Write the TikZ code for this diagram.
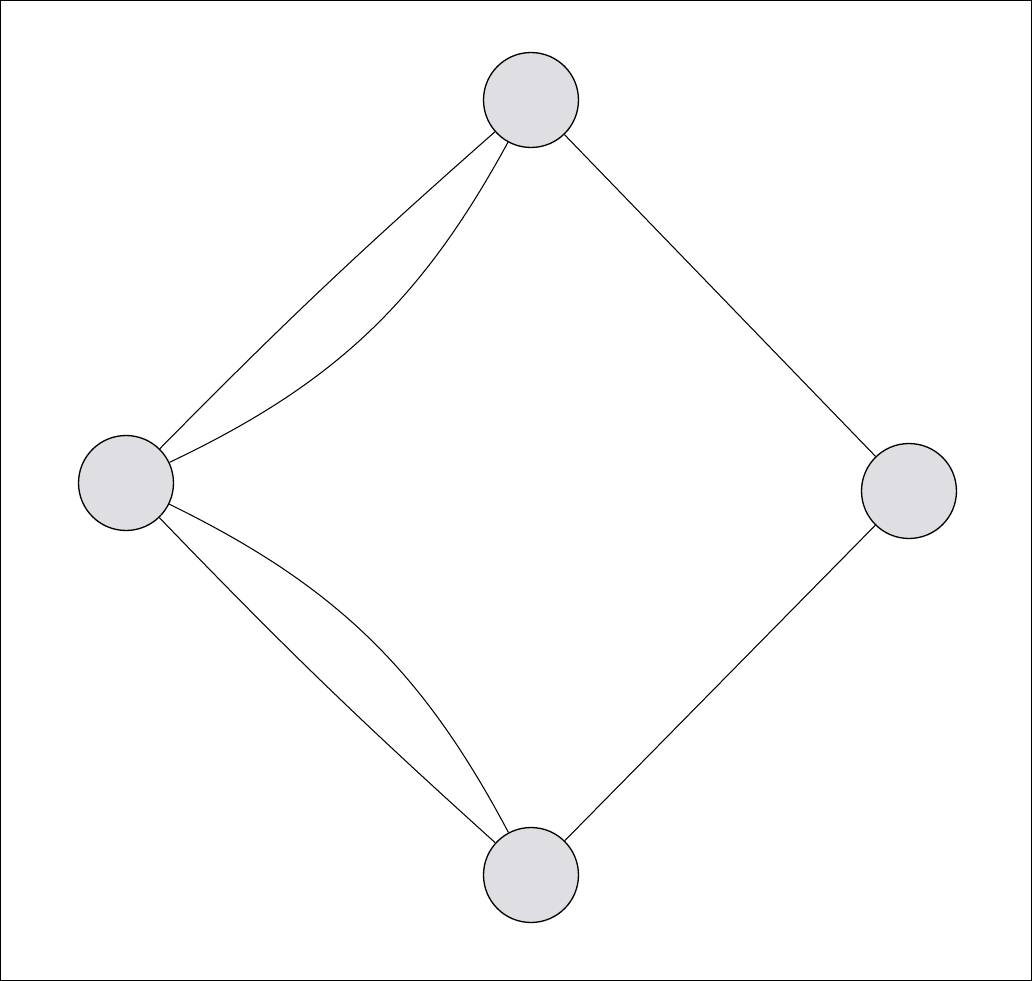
\documentclass[tikz,border=0pt]{standalone}
\usepackage{amsmath}
\usepackage{tikz}

\definecolor{vertexgray}{HTML}{DFDFE3}

\begin{document}
\begin{tikzpicture}[x=0.02cm,y=-0.02cm]

	\tikzstyle vertex nodes=[circle, draw, line width=0.75pt, fill=vertexgray, minimum size=1.9cm, inner sep=0pt];
	\tikzstyle edge lines=[line width=0.6pt];
	\tikzstyle frame lines=[line width=0.6pt];

	\useasboundingbox (0,0) rectangle (1032,981);
	\draw[frame lines] (0.6,0.6) rectangle (1031.4,980.4);

	\node[vertex nodes] (top) at (531,100) {};
	\node[vertex nodes] (left) at (126,483) {};
	\node[vertex nodes] (right) at (909,491) {};
	\node[vertex nodes] (bottom) at (531,875) {};

	\draw[edge lines] (left) to[bend left=2] (top);
	\draw[edge lines] (left) to[bend right=18] (top);

	\draw[edge lines] (left) to[bend right=2] (bottom);
	\draw[edge lines] (left) to[bend left=18] (bottom);

	\draw[edge lines] (top) -- (right);
	\draw[edge lines] (right) -- (bottom);

\end{tikzpicture}
\end{document}
